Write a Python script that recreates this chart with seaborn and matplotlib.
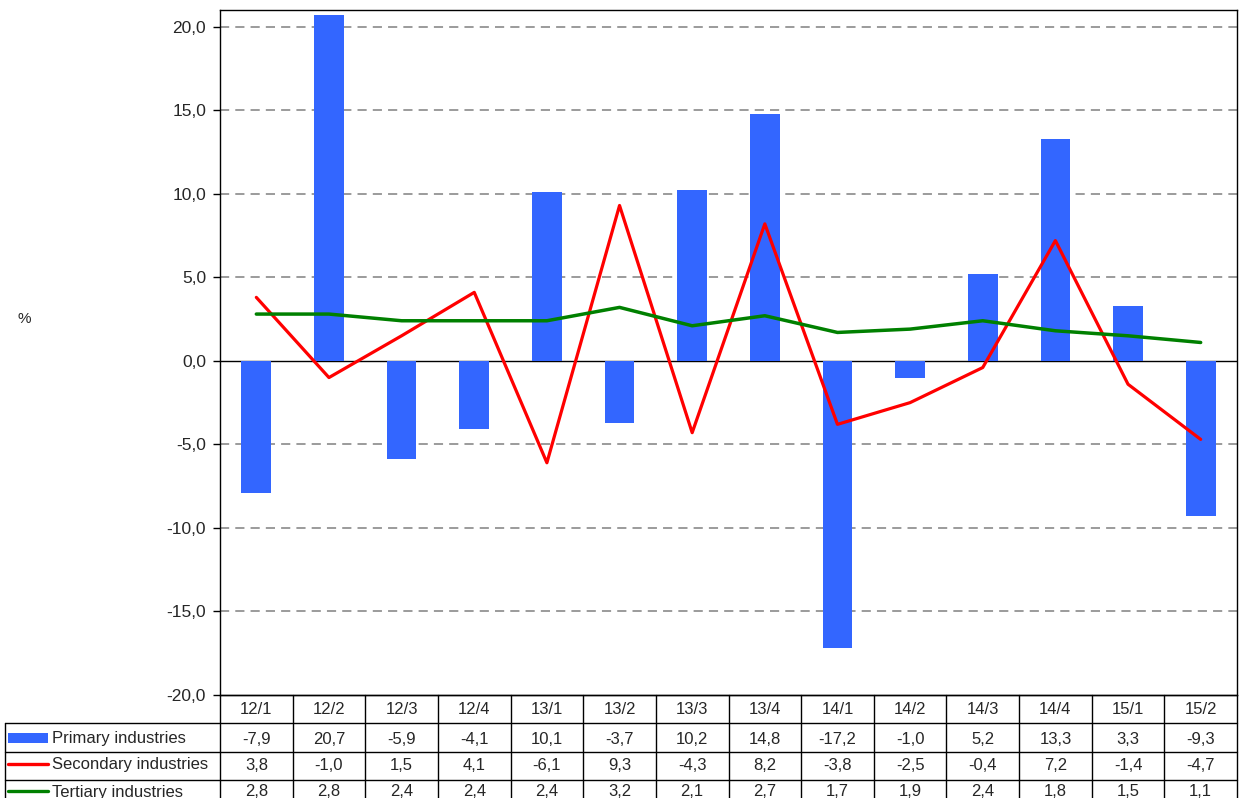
import matplotlib
matplotlib.use("Agg")
import matplotlib.pyplot as plt
import matplotlib.transforms as mtransforms
import seaborn as sns
import pandas as pd
import numpy as np

quarters = ["12/1", "12/2", "12/3", "12/4", "13/1", "13/2", "13/3", "13/4",
            "14/1", "14/2", "14/3", "14/4", "15/1", "15/2"]
primary = [-7.9, 20.7, -5.9, -4.1, 10.1, -3.7, 10.2, 14.8, -17.2, -1.0, 5.2, 13.3, 3.3, -9.3]
secondary = [3.8, -1.0, 1.5, 4.1, -6.1, 9.3, -4.3, 8.2, -3.8, -2.5, -0.4, 7.2, -1.4, -4.7]
tertiary = [2.8, 2.8, 2.4, 2.4, 2.4, 3.2, 2.1, 2.7, 1.7, 1.9, 2.4, 1.8, 1.5, 1.1]
series_names = ["Primary industries", "Secondary industries", "Tertiary industries"]
yticks = [-20, -15, -10, -5, 0, 5, 10, 15, 20]

BLUE = "#3366FF"
RED = "#FF0000"
GREEN = "#008000"

sns.set_style("white")
plt.rcParams["font.family"] = ["Liberation Sans", "DejaVu Sans"]

W, H = 1239, 798
fig = plt.figure(figsize=(W / 100, H / 100), dpi=100)
ax = fig.add_axes([220 / W, 1 - 695 / H, (1237 - 220) / W, (695 - 10) / H])

df = pd.DataFrame({"q": quarters, "primary": primary,
                   "secondary": secondary, "tertiary": tertiary})

sns.barplot(data=df, x="q", y="primary", color=BLUE, width=0.41,
            saturation=1, linewidth=0, edgecolor=BLUE, ax=ax, zorder=2)
sns.lineplot(data=df, x="q", y="secondary", color=RED, linewidth=2.3,
             sort=False, ax=ax, zorder=3)
sns.lineplot(data=df, x="q", y="tertiary", color=GREEN, linewidth=2.5,
             sort=False, ax=ax, zorder=3)

ax.set_xlim(-0.5, len(quarters) - 0.5)
ax.set_ylim(-20, 21)
ax.set_yticks(yticks)
ax.set_yticklabels([f"{v:.1f}".replace(".", ",") for v in yticks], fontsize=12.5)
ax.tick_params(axis="y", which="major", direction="out", length=5, width=1,
               color="black", pad=5, left=True)
ax.set_xticks([])
ax.set_xlabel("")
ax.set_ylabel("")

for v in yticks:
    if v in (0, -20):
        continue
    ax.axhline(v, color="#808080", linewidth=1.1, linestyle=(0, (6, 4)), zorder=1)
ax.axhline(0, color="black", linewidth=1, zorder=1.5)

for s in ax.spines.values():
    s.set_visible(True)
    s.set_color("black")
    s.set_linewidth(1)

fig.text(24 / W, 1 - 319 / H, "%", fontsize=11, ha="center", va="center")

# ---- data table below the plot ----
tr = mtransforms.blended_transform_factory(ax.transData, fig.transFigure)
fy = lambda p: 1 - p / H
n = len(quarters)
row_edges = [695, 723, 752, 780, 808]
x_left = -0.5 - (220 - 5) / ((1237 - 220) / n)
lc = "black"
lw = 1.0

fig.add_artist(plt.Line2D([-0.5, n - 0.5], [fy(695)] * 2, transform=tr, color=lc, lw=lw))
for e in row_edges[1:]:
    fig.add_artist(plt.Line2D([x_left, n - 0.5], [fy(e)] * 2, transform=tr, color=lc, lw=lw))
for i in range(n + 1):
    fig.add_artist(plt.Line2D([i - 0.5, i - 0.5], [fy(695), fy(808)], transform=tr, color=lc, lw=lw))
fig.add_artist(plt.Line2D([x_left, x_left], [fy(723), fy(808)], transform=tr, color=lc, lw=lw))

FS = 12
for i, q in enumerate(quarters):
    fig.text(i, fy(710), q, transform=tr, ha="center", va="center", fontsize=FS)

rows = [primary, secondary, tertiary]
centers = [739, 765, 792]
for r, (vals, cy) in enumerate(zip(rows, centers)):
    for i, v in enumerate(vals):
        fig.text(i, fy(cy), f"{v:.1f}".replace(".", ","), transform=tr,
                 ha="center", va="center", fontsize=FS)
    fig.text(52 / W, fy(cy), series_names[r], ha="left", va="center", fontsize=FS)

fig.add_artist(plt.Rectangle((8 / W, fy(743)), 40 / W, 10 / H, transform=fig.transFigure,
                             color=BLUE, lw=0))
fig.add_artist(plt.Line2D([8 / W, 48 / W], [fy(764)] * 2, transform=fig.transFigure,
                          color=RED, lw=2.4))
fig.add_artist(plt.Line2D([8 / W, 48 / W], [fy(791)] * 2, transform=fig.transFigure,
                          color=GREEN, lw=2.4))

fig.savefig("out.png", dpi=100)
